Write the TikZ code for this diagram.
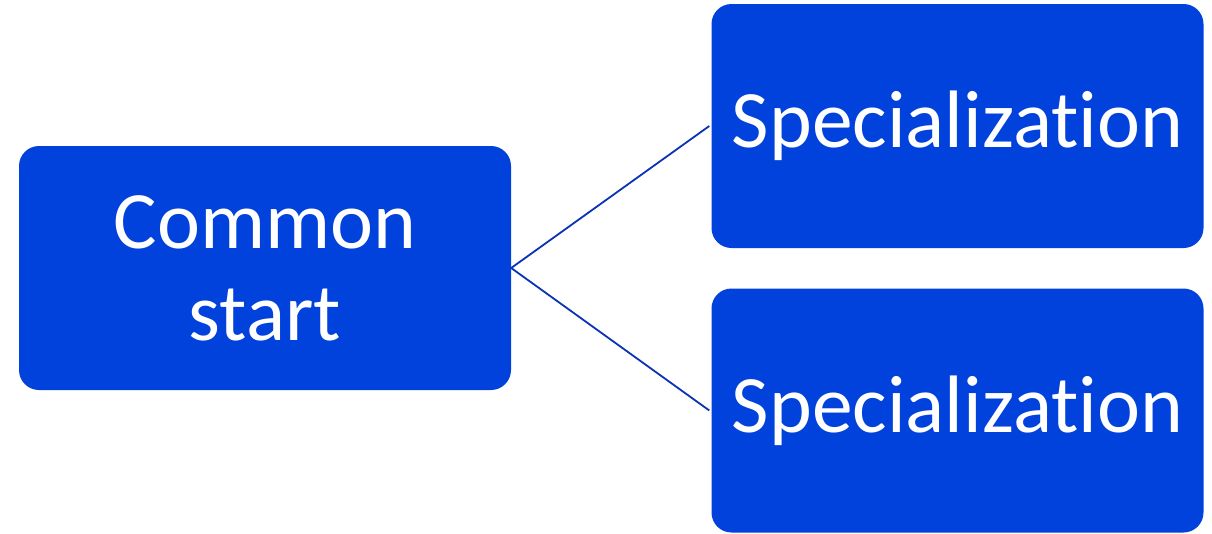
\documentclass[tikz,border=0pt]{standalone}
\usepackage{fontspec}
\setmainfont{Carlito}[Ligatures={NoCommon,NoRequired,NoContextual}]
\definecolor{boxblue}{HTML}{0141DC}
\definecolor{lineblue}{HTML}{0A32B4}
\begin{document}
\begin{tikzpicture}[x=1pt,y=-1pt,
  box/.style={fill=boxblue, draw=none, rounded corners=20pt, minimum width=492pt, minimum height=244pt, inner sep=0pt, text=white, align=center, font=\fontsize{81.5pt}{92pt}\selectfont},
  conn/.style={draw=lineblue, line width=1.8pt}]
\useasboundingbox (0,0) rectangle (1212,533);
\node[box] (start) at (265,268) {Common\\start};
\node[box] (spec1) at (957.5,126) {Specialization};
\node[box] (spec2) at (957.5,410.5) {Specialization};
\draw[conn] (start.east) -- ([xshift=-2pt]spec1.west);
\draw[conn] (start.east) -- ([xshift=-2pt]spec2.west);
\end{tikzpicture}
\end{document}
